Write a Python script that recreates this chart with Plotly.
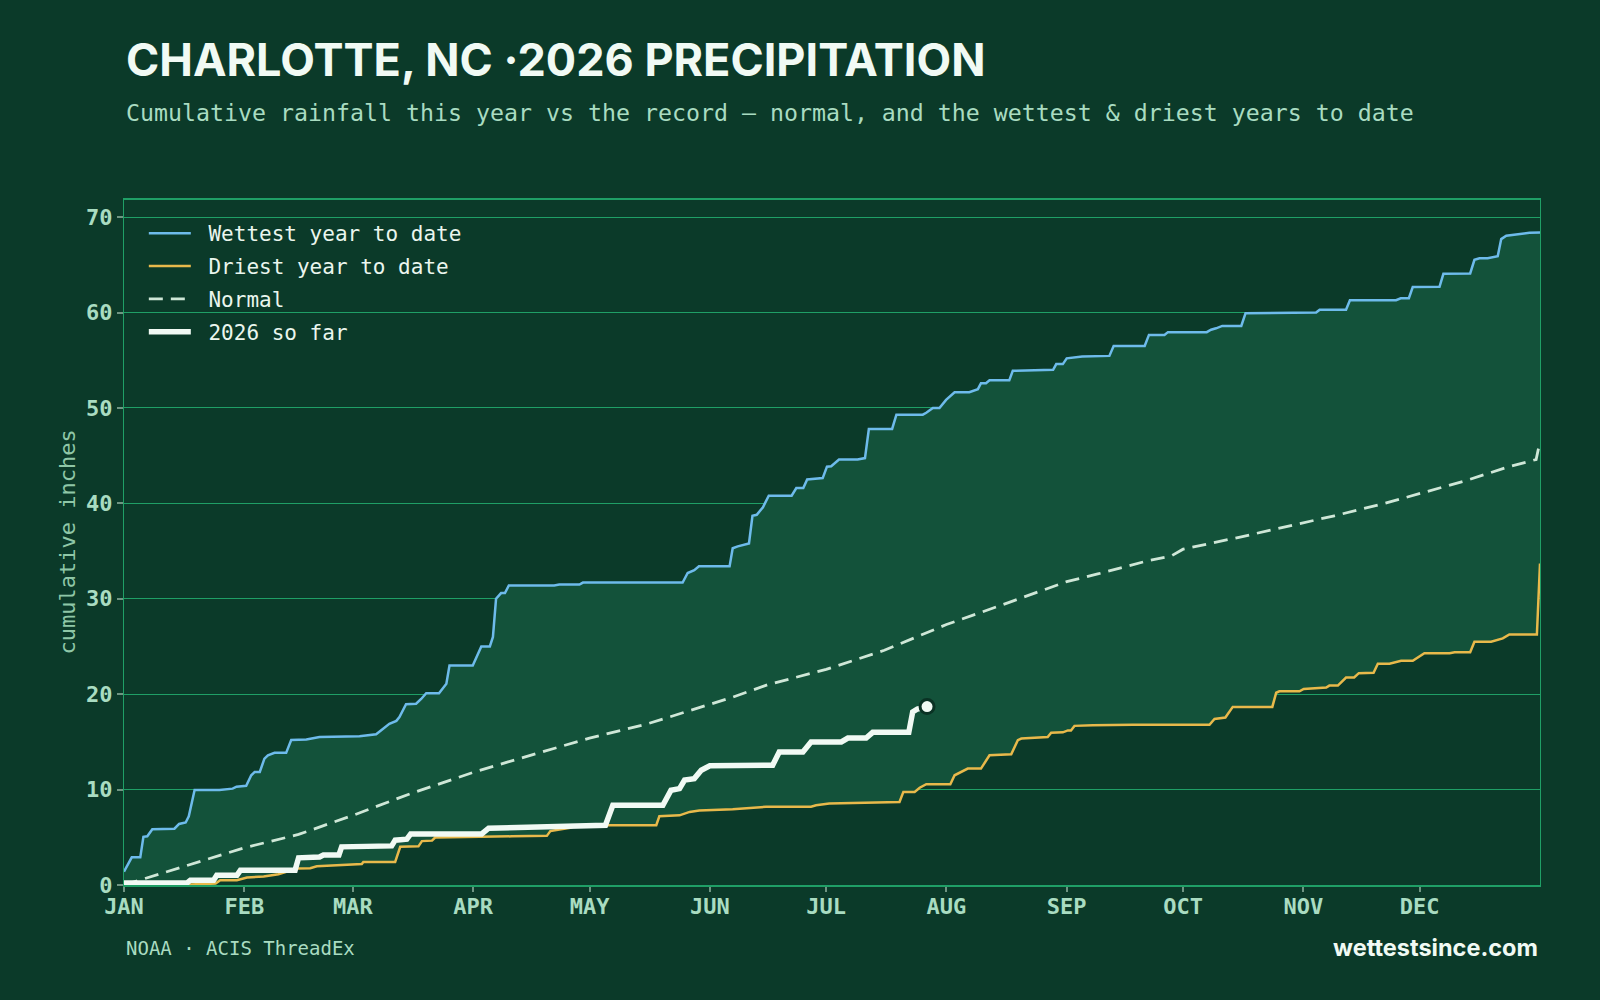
import plotly.graph_objects as go

# ---------------- data (day of year, cumulative inches) ----------------
month_days = [0, 31, 59, 90, 120, 151, 181, 212, 243, 273, 304, 334]
month_labels = ["JAN", "FEB", "MAR", "APR", "MAY", "JUN", "JUL", "AUG", "SEP", "OCT", "NOV", "DEC"]
y_ticks = [0, 10, 20, 30, 40, 50, 60, 70]

wettest_day = [0, 2, 4.2, 5, 6, 7.3, 13, 14.2, 15.9, 16.7, 18.2, 24.6, 28, 29, 31.5, 32.8, 33.7, 35,
               36.2, 37.1, 38.8, 41.8, 43.1, 47, 50.4, 60.7, 65, 66.7, 68.4, 70.2, 71, 72.7, 75.3,
               76.6, 77.9, 81.2, 83.1, 83.9, 89.9, 92.1, 94.3, 95.1, 95.9, 97.2, 98.2, 99.2, 110.9,
               112.2, 117.4, 118.3, 144, 145.3, 147, 148.2, 156.1, 156.9, 158.2, 161.1, 162, 163.1,
               164.7, 166.2, 172.1, 173.3, 175.1, 176.1, 180.1, 181.2, 182.3, 184.3, 189.1, 191, 192,
               198, 199.1, 205.9, 206.8, 208.5, 210.2, 211.9, 214.1, 217.9, 220.1, 220.9, 222.2,
               223.1, 228.2, 229.1, 238.1, 239.5, 240.3, 242, 243, 245, 247, 254, 255.1, 263.1,
               264.2, 268.2, 269.1, 279.1, 280.2, 281.5, 283.1, 288, 289.1, 307.3, 308.2, 315, 316,
               327.9, 329.1, 331.2, 332.2, 339.1, 340.1, 347, 348.1, 349.4, 351.5, 354.1, 355,
               356.3, 359.7, 362.3, 365]
wettest_in = [1.4, 2.9, 2.9, 5.05, 5.1, 5.85, 5.9, 6.4, 6.55, 7.2, 9.95, 9.95, 10.1, 10.3, 10.4, 11.5,
              11.85, 11.85, 13.25, 13.6, 13.85, 13.85, 15.2, 15.25, 15.5, 15.6, 15.8, 16.4, 16.9,
              17.2, 17.6, 18.95, 19.0, 19.5, 20.1, 20.1, 21.1, 23.0, 23.0, 25.0, 25.0, 26.0, 30.0,
              30.6, 30.6, 31.4, 31.4, 31.5, 31.5, 31.7, 31.7, 32.7, 33.0, 33.4, 33.4, 35.3, 35.5,
              35.8, 38.7, 38.8, 39.6, 40.8, 40.8, 41.6, 41.6, 42.5, 42.65, 43.85, 43.9, 44.6, 44.6,
              44.75, 47.8, 47.8, 49.3, 49.3, 49.5, 50.0, 50.0, 50.85, 51.65, 51.65, 51.97, 52.6,
              52.6, 52.9, 52.9, 53.9, 54.0, 54.0, 54.6, 54.6, 55.2, 55.3, 55.4, 55.46, 56.5, 56.5,
              57.66, 57.66, 57.95, 57.95, 58.2, 58.35, 58.6, 58.6, 59.94, 60.0, 60.3, 60.3, 61.3,
              61.3, 61.5, 61.5, 62.67, 62.7, 64.06, 64.1, 65.53, 65.7, 65.7, 65.9, 67.7, 68.05,
              68.25, 68.37, 68.4]

driest_day = [0, 17, 23.6, 24.8, 29.1, 30, 31.7, 36, 37.7, 39.8, 44.5, 48, 49.7, 54.9, 61.3, 61.7,
              69.9, 71.2, 75.9, 76.8, 79.4, 80.2, 89.9, 100, 109, 109.9, 115, 116.7, 137.2, 138,
              143.2, 145.8, 148.3, 156.9, 165.5, 177.1, 178.4, 181.8, 199.9, 200.9, 203.8, 205.1,
              206.8, 213, 214.1, 215.8, 217.5, 220.9, 223.1, 228.7, 230.4, 231.3, 238.1, 239, 242,
              243.3, 244.1, 245, 249.7, 260, 279.8, 281.1, 283.9, 285.8, 296, 297, 297.8, 303,
              304.1, 309.9, 310.7, 312.9, 315, 317.1, 318.3, 322.1, 323.2, 326.2, 329.2, 332.2,
              335.2, 341.7, 343, 347, 348.1, 352.4, 354.1, 355.4, 357.1, 364.2, 365]
driest_in = [0.0, 0.05, 0.15, 0.5, 0.5, 0.6, 0.78, 0.9, 1.02, 1.13, 1.72, 1.75, 1.96, 2.1, 2.2, 2.42,
             2.42, 4.0, 4.05, 4.6, 4.65, 4.97, 5.0, 5.1, 5.15, 5.65, 6.0, 6.26, 6.26, 7.2, 7.3,
             7.66, 7.8, 7.95, 8.2, 8.2, 8.36, 8.54, 8.7, 9.76, 9.76, 10.2, 10.56, 10.56, 11.5,
             11.85, 12.2, 12.2, 13.6, 13.7, 15.18, 15.35, 15.5, 15.95, 16.0, 16.2, 16.2, 16.68,
             16.75, 16.8, 16.8, 17.4, 17.55, 18.67, 18.67, 20.15, 20.3, 20.3, 20.55, 20.7, 20.9,
             20.9, 21.75, 21.75, 22.2, 22.25, 23.2, 23.2, 23.5, 23.5, 24.3, 24.3, 24.4, 24.4, 25.5,
             25.5, 25.7, 25.85, 26.26, 26.26, 33.7]

normal_day = [0, 15, 31, 45, 59, 74, 90, 99, 120, 135, 151, 157, 166, 181, 196, 212, 228, 243, 251,
              264, 270, 273, 288, 298, 312, 325, 334, 346, 357, 364, 365]
normal_in = [0.0, 1.9, 3.9, 5.3, 7.3, 9.6, 11.8, 12.9, 15.4, 16.9, 18.9, 19.7, 21.0, 22.6, 24.6,
             27.3, 29.6, 31.8, 32.6, 34.0, 34.5, 35.2, 36.5, 37.4, 38.7, 40.0, 41.0, 42.4, 43.85,
             44.6, 46.5]

y2026_day = [0, 16.2, 17.1, 23.1, 23.9, 29.1, 30, 44.1, 45, 50.4, 51.4, 55.4, 56.1, 69, 69.9, 72.9,
             73.9, 92.2, 94, 114, 116.6, 124.1, 126, 138.9, 141, 143.2, 144.5, 147, 148.8, 151,
             167.2, 168.9, 175, 177.1, 184.9, 186.6, 191.3, 193, 202.3, 203.3, 204.5, 207]
y2026_in = [0.2, 0.2, 0.5, 0.5, 1.02, 1.02, 1.54, 1.54, 2.85, 2.94, 3.15, 3.15, 4.0, 4.1, 4.7, 4.8,
            5.35, 5.35, 5.95, 6.1, 6.26, 6.26, 8.36, 8.36, 9.93, 10.1, 11.0, 11.15, 12.03, 12.5,
            12.55, 13.95, 13.95, 15.0, 15.0, 15.4, 15.4, 16.0, 16.0, 18.15, 18.45, 18.7]

legend_names = ["Wettest year to date", "Driest year to date", "Normal", "2026 so far"]

# ---------------- style ----------------
BG = "#0b3a29"
BAND = "#13523a"
GRID = "#1f9f66"
MINT = "#a9dcc1"
WHITE = "#f1faf4"
BLUE = "#6ebbeb"
GOLD = "#e8b94b"
NORMAL = "#cfe7d7"
PAD = "\u00a0"  # small gap between legend swatch and label

fig = go.Figure()

# shaded band between wettest and driest
fig.add_trace(go.Scatter(
    x=wettest_day + driest_day[::-1], y=wettest_in + driest_in[::-1],
    fill="toself", fillcolor=BAND, line=dict(width=0), mode="lines",
    showlegend=False, hoverinfo="skip"))

fig.add_trace(go.Scatter(x=wettest_day, y=wettest_in, mode="lines", name=PAD + legend_names[0],
                         legendgroup="w", line=dict(color=BLUE, width=2.5)))
fig.add_trace(go.Scatter(x=driest_day, y=driest_in, mode="lines", name=PAD + legend_names[1],
                         legendgroup="d", line=dict(color=GOLD, width=2.5)))
fig.add_trace(go.Scatter(x=normal_day, y=normal_in, mode="lines", name=PAD + legend_names[2],
                         legendgroup="n", line=dict(color=NORMAL, width=2.8, dash="14px,8px")))
fig.add_trace(go.Scatter(x=y2026_day, y=y2026_in, mode="lines", name=PAD + legend_names[3],
                         legendgroup="y", line=dict(color=WHITE, width=5.5)))
fig.add_trace(go.Scatter(x=[y2026_day[-1]], y=[y2026_in[-1]], mode="markers", showlegend=False,
                         marker=dict(color=WHITE, size=14, line=dict(color="#0a3224", width=3)),
                         hoverinfo="skip"))

L, R, T, B = 124, 60, 200, 115
H = 1000 - T - B


def py(y_px):
    return (1000 - B - y_px) / H


fig.update_layout(
    width=1600, height=1000,
    paper_bgcolor=BG, plot_bgcolor=BG,
    margin=dict(l=L, r=R, t=T, b=B, autoexpand=False),
    showlegend=True,
    legend=dict(x=0.014, y=0.981, xanchor="left", yanchor="top", bgcolor="rgba(0,0,0,0)",
                font=dict(family="DejaVu Sans Mono", size=21, color="#eaf6ee"),
                itemwidth=42, tracegroupgap=2.6, traceorder="grouped"),
    xaxis=dict(range=[0, 365], tickvals=month_days, ticktext=month_labels, showgrid=False,
               zeroline=False, showline=True, linecolor=GRID, linewidth=2, mirror=True,
               ticks="outside", ticklen=5, tickcolor="#6f9482", tickwidth=1.5,
               ticklabelstandoff=-4,
               tickfont=dict(family="DejaVu Sans Mono", size=22, color=MINT, weight="bold")),
    yaxis=dict(range=[0, 71.8], tickvals=y_ticks, showgrid=True, gridcolor=GRID, gridwidth=1.3,
               zeroline=False, showline=True, linecolor=GRID, linewidth=1.3, mirror=True,
               ticks="outside", ticklen=6, tickcolor="#6f9482", tickwidth=1.5,
               tickfont=dict(family="DejaVu Sans Mono", size=22, color=MINT, weight="bold")),
    annotations=[
        dict(text="CHARLOTTE, NC ·2026 PRECIPITATION", xref="paper", yref="paper", x=0, y=py(59),
             xanchor="left", yanchor="middle", showarrow=False,
             font=dict(family="Inter", size=45, color=WHITE, weight="bold")),
        dict(text="Cumulative rainfall this year vs the record — normal, and the wettest & driest years to date",
             xref="paper", yref="paper", x=0, y=py(113), xanchor="left", yanchor="middle",
             showarrow=False, font=dict(family="DejaVu Sans Mono", size=23.25, color=MINT)),
        dict(text="cumulative inches", xref="paper", yref="paper", x=(67 - L) / (1600 - L - R),
             y=0.5, xanchor="center", yanchor="middle", textangle=-90, showarrow=False,
             font=dict(family="DejaVu Sans Mono", size=22, color="#8fc7a7")),
        dict(text="NOAA · ACIS ThreadEx", xref="paper", yref="paper", x=0, y=py(948),
             xanchor="left", yanchor="middle", showarrow=False,
             font=dict(family="DejaVu Sans Mono", size=19, color=MINT)),
        dict(text="wettestsince.com", xref="paper", yref="paper", x=1, y=py(948),
             xanchor="right", yanchor="middle", showarrow=False,
             font=dict(family="Inter", size=23.5, color=WHITE, weight="bold")),
    ],
)

fig.write_html("out.html")
